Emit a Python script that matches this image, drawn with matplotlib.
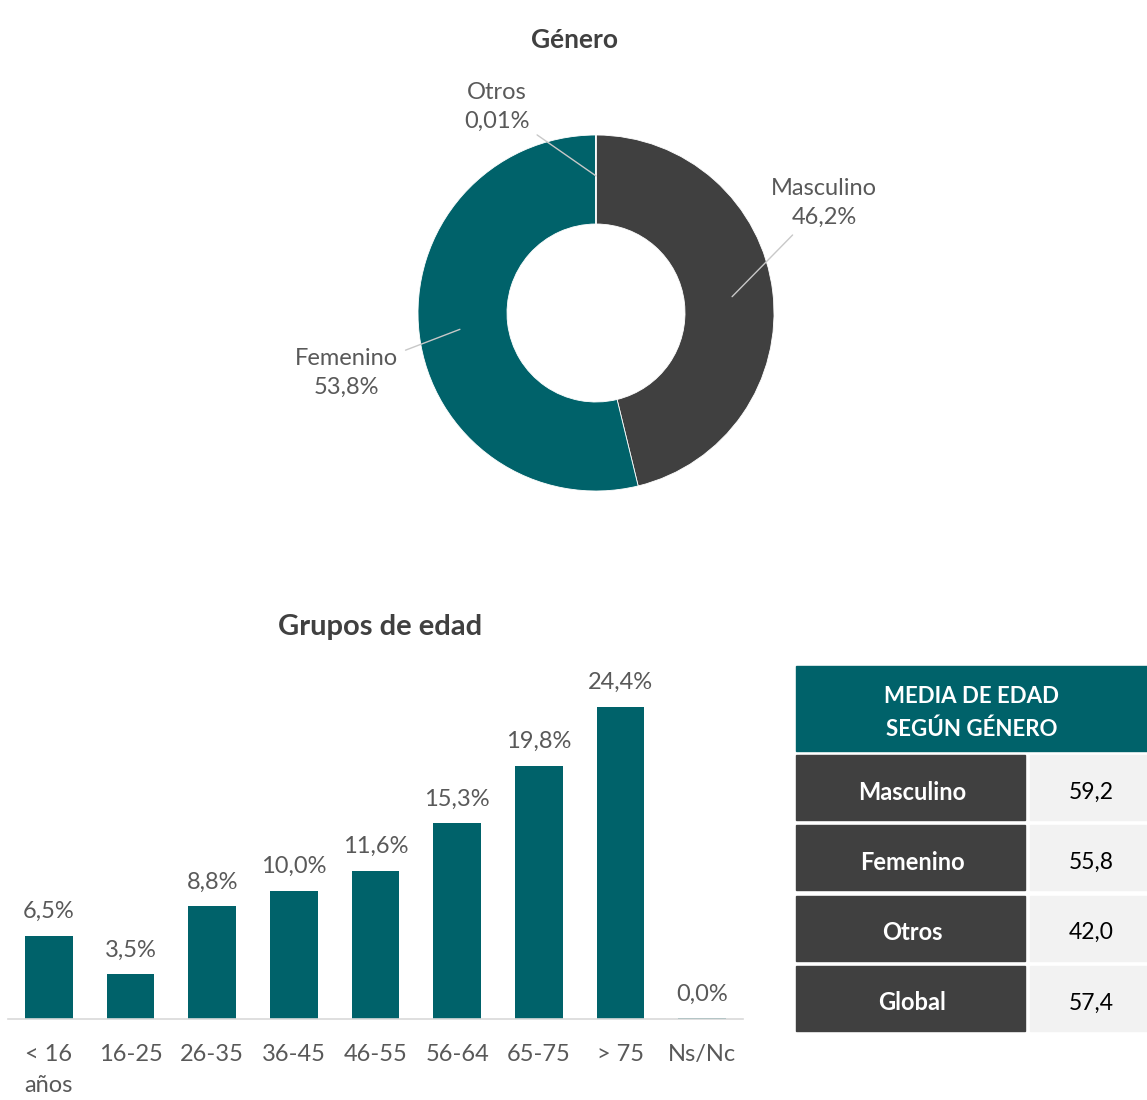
import numpy as np
import matplotlib
matplotlib.use("Agg")
from matplotlib import pyplot as plt
from matplotlib.patches import Rectangle

plt.rcParams['font.family'] = ['Lato', 'DejaVu Sans']

# --- data ---
gender_labels = ['Masculino', 'Femenino', 'Otros']
gender_pct = [46.2, 53.8, 0.01]
gender_txt = ['46,2%', '53,8%', '0,01%']

age_groups = ['< 16\naños', '16-25', '26-35', '36-45', '46-55', '56-64', '65-75', '> 75', 'Ns/Nc']
age_pct = [6.5, 3.5, 8.8, 10.0, 11.6, 15.3, 19.8, 24.4, 0.04]

table_header = 'MEDIA DE EDAD\nSEGÚN GÉNERO'
table_rows = ['Masculino', 'Femenino', 'Otros', 'Global']
table_vals = [59.2, 55.8, 42.0, 57.4]

TEAL = '#00626A'
DARK = '#404040'
GREY = '#595959'

W, H = 1147, 1100
fig = plt.figure(figsize=(W / 100, H / 100), dpi=100)


def px_axes(x0, y0, x1, y1):
    # pixel box (top-left origin) -> figure axes
    return fig.add_axes([x0 / W, 1 - y1 / H, (x1 - x0) / W, (y1 - y0) / H])


# --- donut ---
cx, cy, R = 596, 313, 178
ax = px_axes(200, 10, 992, 520)
ax.pie(gender_pct, colors=[DARK, TEAL, TEAL], startangle=90, counterclock=False,
       radius=1, wedgeprops=dict(width=0.5, edgecolor='white', linewidth=0.6))
ax.set_aspect('auto')
ax.set_xlim((200 - cx) / R, (992 - cx) / R)
ax.set_ylim((cy - 520) / R, (cy - 10) / R)
ax.axis('off')
ax.text((575 - cx) / R, (cy - 40) / R, 'Género', ha='center', va='center',
        fontsize=19, fontweight='bold', color=DARK)

label_pos = {'Masculino': (824, 203), 'Femenino': (346, 373), 'Otros': (497, 107)}
start = 90.0
for lab, p, t in zip(gender_labels, gender_pct, gender_txt):
    mid = np.deg2rad(start - p / 100 * 360 / 2)
    start -= p / 100 * 360
    tx, ty = label_pos[lab]
    ax.annotate(f'{lab}\n{t}', xy=(0.77 * np.cos(mid), 0.77 * np.sin(mid)),
                xytext=((tx - cx) / R, (cy - ty) / R), ha='center', va='center',
                fontsize=17, color=GREY, linespacing=1.5,
                arrowprops=dict(arrowstyle='-', color='#C8C8C8', lw=1,
                                shrinkA=4, shrinkB=0))

# --- bars ---
bx = px_axes(8, 660, 743, 1019)
x = np.arange(len(age_groups))
bx.bar(x, age_pct, width=0.58, color=TEAL)
bx.set_xlim(-0.5, len(age_groups) - 0.5)
bx.set_ylim(0, 28.07)
for s in ['top', 'right', 'left']:
    bx.spines[s].set_visible(False)
bx.spines['bottom'].set_color('#D9D9D9')
bx.spines['bottom'].set_linewidth(1.2)
bx.set_yticks([])
bx.set_xticks(x)
bx.set_xticklabels(age_groups, fontsize=17, color=GREY, va='top', linespacing=1.6)
bx.tick_params(axis='x', length=0, pad=18)
for xi, v in zip(x, age_pct):
    bx.annotate(f'{v:.1f}%'.replace('.', ','), (xi, v), xytext=(0, 10),
                textcoords='offset points', ha='center', va='bottom',
                fontsize=17, color=GREY)
fig.text(380 / W, 1 - 627 / H, 'Grupos de edad', ha='center', va='center',
         fontsize=21, fontweight='bold', color=DARK)

# --- table ---
tx = px_axes(0, 0, W, H)
tx.set_xlim(0, W)
tx.set_ylim(H, 0)
tx.axis('off')
tx.add_patch(Rectangle((796, 666), 351, 85, color=TEAL))
tx.text(972, 713, table_header, ha='center', va='center', color='white',
        fontsize=16, fontweight='bold', linespacing=1.65)
for i, (name, val) in enumerate(zip(table_rows, table_vals)):
    y0 = 755 + i * 70.3
    tx.add_patch(Rectangle((796, y0), 229, 65, color=DARK))
    tx.add_patch(Rectangle((1030, y0), 117, 65, color='#F2F2F2'))
    tx.text(912, y0 + 37, name, ha='center', va='center', color='white',
            fontsize=17, fontweight='bold')
    tx.text(1091, y0 + 37, f'{val:.1f}'.replace('.', ','), ha='center',
            va='center', color='black', fontsize=16.5)

fig.savefig('out.png', dpi=100)
